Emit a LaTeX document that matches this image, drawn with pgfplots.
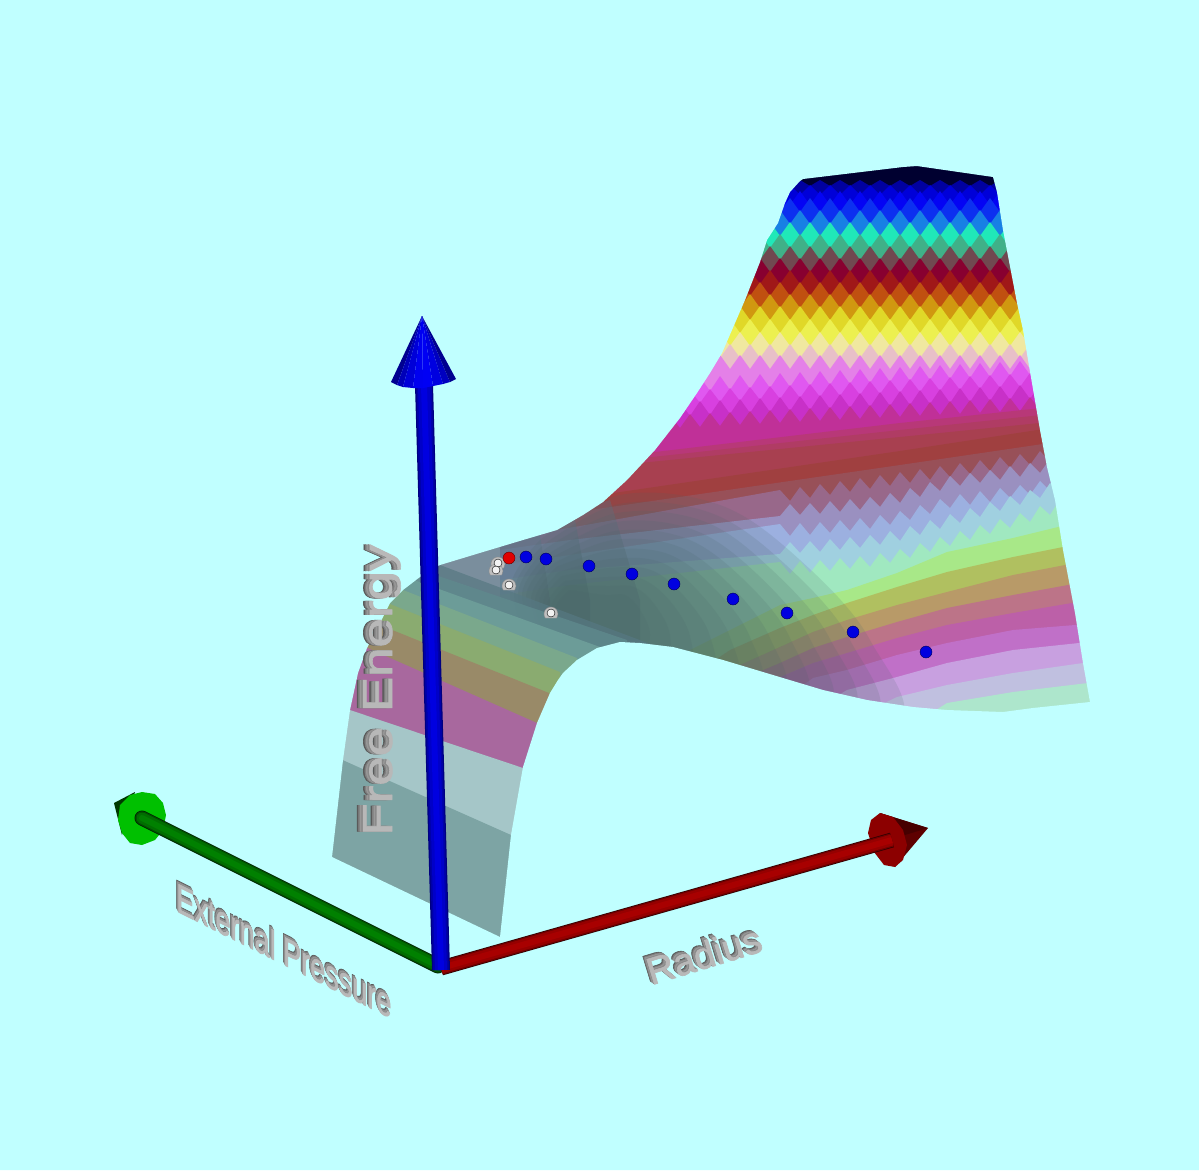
\documentclass[border=0pt]{standalone}
\usepackage{pgfplots}
\pgfplotsset{compat=1.18}
\usepackage{fontspec}
\setmainfont{Liberation Sans}
\newfontfamily\facef{Liberation Sans}[FakeBold=1.5]
\pgfdeclareplotmark{dome}{\pgfpathmoveto{\pgfpointpolar{215}{\pgfplotmarksize}}\pgfpatharc{215}{-35}{\pgfplotmarksize}\pgfpathclose\pgfusepathqfillstroke}
\definecolor{bg}{HTML}{C0FFFF}
\definecolor{ra}{HTML}{000030}\definecolor{rb}{HTML}{0000A0}\definecolor{rc}{HTML}{0000D8}
\definecolor{r1}{HTML}{0404F4}\definecolor{r2}{HTML}{0C30F0}\definecolor{r3}{HTML}{1880E4}
\definecolor{r4}{HTML}{20E8B8}\definecolor{r5}{HTML}{40B088}\definecolor{r6}{HTML}{704850}
\definecolor{r7}{HTML}{880030}\definecolor{r8}{HTML}{A01818}\definecolor{r9}{HTML}{C05010}
\definecolor{r10}{HTML}{D09810}\definecolor{r11}{HTML}{E0D828}\definecolor{r12}{HTML}{ECF050}
\definecolor{r13}{HTML}{F0E8A0}\definecolor{r14}{HTML}{E8C0C8}\definecolor{r15}{HTML}{E480E8}
\definecolor{r16}{HTML}{E058F0}\definecolor{r17}{HTML}{D840E0}\definecolor{r18}{HTML}{C830C8}
\definecolor{r19}{HTML}{C03098}\definecolor{r20}{HTML}{B83878}\definecolor{r20b}{HTML}{B03C64}\definecolor{r21}{HTML}{A84050}
\definecolor{r22}{HTML}{A04040}\definecolor{r23}{HTML}{985058}\definecolor{r24}{HTML}{98688A}
\definecolor{r25}{HTML}{9A90C0}\definecolor{r26}{HTML}{9CB0E0}\definecolor{r27}{HTML}{A0D0E0}
\definecolor{r28}{HTML}{A0E8C0}
\definecolor{cb}{HTML}{A8E888}\definecolor{cc}{HTML}{B0C060}\definecolor{cd}{HTML}{B89A68}
\definecolor{ce}{HTML}{BC7488}\definecolor{cf}{HTML}{BC60A8}\definecolor{cg}{HTML}{C070C8}
\definecolor{ch}{HTML}{C8A0E0}\definecolor{ci}{HTML}{C0C0E0}\definecolor{cj}{HTML}{ADE6CC}
\definecolor{slate}{HTML}{4A6668}\definecolor{tt}{HTML}{5E7688}
\definecolor{b1}{HTML}{567882}\definecolor{b2}{HTML}{5F8A8D}\definecolor{b3}{HTML}{6C9C98}
\definecolor{b4}{HTML}{7AA88C}\definecolor{b5}{HTML}{8AAB70}\definecolor{b6}{HTML}{998A68}
\definecolor{b7}{HTML}{A8689E}\definecolor{b8}{HTML}{A5C6C8}\definecolor{b9}{HTML}{7DA4A4}
\definecolor{gA}{HTML}{5A5A5A}\definecolor{gB}{HTML}{808080}\definecolor{gC}{HTML}{989898}
\definecolor{gD}{HTML}{8A8A8A}\definecolor{gE}{HTML}{B8B8B8}
\newcommand{\solidtext}[7]{%
 \node[text=gA,xshift={#4pt},yshift={#5pt},#3,font=\facef\fontsize{#7}{#7}\selectfont] at (axis cs:#1,#2) {#6};
 \node[text=gB,xshift={0.75*#4pt},yshift={0.75*#5pt},#3,font=\facef\fontsize{#7}{#7}\selectfont] at (axis cs:#1,#2) {#6};
 \node[text=gC,xshift={0.5*#4pt},yshift={0.5*#5pt},#3,font=\facef\fontsize{#7}{#7}\selectfont] at (axis cs:#1,#2) {#6};
 \node[text=gD,xshift={0.25*#4pt},yshift={0.25*#5pt},#3,font=\facef\fontsize{#7}{#7}\selectfont] at (axis cs:#1,#2) {#6};
 \node[text=gE,#3,font=\facef\fontsize{#7}{#7}\selectfont] at (axis cs:#1,#2) {#6};}
\begin{document}
\begin{tikzpicture}
\begin{axis}[scale only axis,width=1199pt,height=1170pt,xmin=0,xmax=1199,ymin=0,ymax=1170,y dir=reverse,axis lines=none,clip=true]
% surface: painted row by row
\addplot[draw=none,fill=ra] coordinates {(780,150)(1010,150)(1110,760)(600,760)};
\addplot[draw=none,fill=rb] coordinates {(790,186)(800,180)(810,186)(820,180)(830,186)(840,180)(850,186)(860,180)(870,186)(880,180)(890,186)(900,180)(910,186)(920,180)(930,186)(940,180)(950,186)(960,180)(970,186)(980,180)(990,186)(1000,180)(1110,760)(600,760)};
\addplot[draw=none,fill=rc] coordinates {(790,185)(800,195)(810,185)(820,195)(830,185)(840,195)(850,185)(860,195)(870,185)(880,195)(890,185)(900,195)(910,185)(920,195)(930,185)(940,195)(950,185)(960,195)(970,185)(980,195)(990,185)(1000,195)(1110,760)(600,760)};
\addplot[draw=none,fill=r1] coordinates {(780,191)(790,205)(800,191)(810,205)(820,191)(830,205)(840,191)(850,205)(860,191)(870,205)(880,191)(890,205)(900,191)(910,205)(920,191)(930,205)(940,191)(950,205)(960,191)(970,205)(980,191)(990,205)(1000,191)(1010,205)(1110,760)(600,760)};
\addplot[draw=none,fill=r2] coordinates {(780,212)(790,198)(800,212)(810,198)(820,212)(830,198)(840,212)(850,198)(860,212)(870,198)(880,212)(890,198)(900,212)(910,198)(920,212)(930,198)(940,212)(950,198)(960,212)(970,198)(980,212)(990,198)(1000,212)(1010,198)(1110,760)(600,760)};
\addplot[draw=none,fill=r3] coordinates {(770,224)(780,210)(790,224)(800,210)(810,224)(820,210)(830,224)(840,210)(850,224)(860,210)(870,224)(880,210)(890,224)(900,210)(910,224)(920,210)(930,224)(940,210)(950,224)(960,210)(970,224)(980,210)(990,224)(1000,210)(1010,224)(1110,760)(600,760)};
\addplot[draw=none,fill=r4] coordinates {(770,222)(780,236)(790,222)(800,236)(810,222)(820,236)(830,222)(840,236)(850,222)(860,236)(870,222)(880,236)(890,222)(900,236)(910,222)(920,236)(930,222)(940,236)(950,222)(960,236)(970,222)(980,236)(990,222)(1000,236)(1010,222)(1110,760)(600,760)};
\addplot[draw=none,fill=r5] coordinates {(760,234)(770,248)(780,234)(790,248)(800,234)(810,248)(820,234)(830,248)(840,234)(850,248)(860,234)(870,248)(880,234)(890,248)(900,234)(910,248)(920,234)(930,248)(940,234)(950,248)(960,234)(970,248)(980,234)(990,248)(1000,234)(1010,248)(1020,234)(1110,760)(600,760)};
\addplot[draw=none,fill=r6] coordinates {(760,260)(770,246)(780,260)(790,246)(800,260)(810,246)(820,260)(830,246)(840,260)(850,246)(860,260)(870,246)(880,260)(890,246)(900,260)(910,246)(920,260)(930,246)(940,260)(950,246)(960,260)(970,246)(980,260)(990,246)(1000,260)(1010,246)(1020,260)(1110,760)(600,760)};
\addplot[draw=none,fill=r7] coordinates {(750,272)(760,258)(770,272)(780,258)(790,272)(800,258)(810,272)(820,258)(830,272)(840,258)(850,272)(860,258)(870,272)(880,258)(890,272)(900,258)(910,272)(920,258)(930,272)(940,258)(950,272)(960,258)(970,272)(980,258)(990,272)(1000,258)(1010,272)(1020,258)(1110,760)(600,760)};
\addplot[draw=none,fill=r8] coordinates {(750,270)(760,284)(770,270)(780,284)(790,270)(800,284)(810,270)(820,284)(830,270)(840,284)(850,270)(860,284)(870,270)(880,284)(890,270)(900,284)(910,270)(920,284)(930,270)(940,284)(950,270)(960,284)(970,270)(980,284)(990,270)(1000,284)(1010,270)(1020,284)(1110,760)(600,760)};
\addplot[draw=none,fill=r9] coordinates {(740,282)(750,296)(760,282)(770,296)(780,282)(790,296)(800,282)(810,296)(820,282)(830,296)(840,282)(850,296)(860,282)(870,296)(880,282)(890,296)(900,282)(910,296)(920,282)(930,296)(940,282)(950,296)(960,282)(970,296)(980,282)(990,296)(1000,282)(1010,296)(1020,282)(1030,296)(1110,760)(600,760)};
\addplot[draw=none,fill=r10] coordinates {(740,308)(750,294)(760,308)(770,294)(780,308)(790,294)(800,308)(810,294)(820,308)(830,294)(840,308)(850,294)(860,308)(870,294)(880,308)(890,294)(900,308)(910,294)(920,308)(930,294)(940,308)(950,294)(960,308)(970,294)(980,308)(990,294)(1000,308)(1010,294)(1020,308)(1030,294)(1110,760)(600,760)};
\addplot[draw=none,fill=r11] coordinates {(730,320)(740,306)(750,320)(760,306)(770,320)(780,306)(790,320)(800,306)(810,320)(820,306)(830,320)(840,306)(850,320)(860,306)(870,320)(880,306)(890,320)(900,306)(910,320)(920,306)(930,320)(940,306)(950,320)(960,306)(970,320)(980,306)(990,320)(1000,306)(1010,320)(1020,306)(1030,320)(1110,760)(600,760)};
\addplot[draw=none,fill=r12] coordinates {(730,319)(740,333)(750,319)(760,333)(770,319)(780,333)(790,319)(800,333)(810,319)(820,333)(830,319)(840,333)(850,319)(860,333)(870,319)(880,333)(890,319)(900,333)(910,319)(920,333)(930,319)(940,333)(950,319)(960,333)(970,319)(980,333)(990,319)(1000,333)(1010,319)(1020,333)(1030,319)(1110,760)(600,760)};
\addplot[draw=none,fill=r13] coordinates {(720,332)(730,346)(740,332)(750,346)(760,332)(770,346)(780,332)(790,346)(800,332)(810,346)(820,332)(830,346)(840,332)(850,346)(860,332)(870,346)(880,332)(890,346)(900,332)(910,346)(920,332)(930,346)(940,332)(950,346)(960,332)(970,346)(980,332)(990,346)(1000,332)(1010,346)(1020,332)(1030,346)(1040,332)(1110,760)(600,760)};
\addplot[draw=none,fill=r14] coordinates {(710,344)(720,358)(730,344)(740,358)(750,344)(760,358)(770,344)(780,358)(790,344)(800,358)(810,344)(820,358)(830,344)(840,358)(850,344)(860,358)(870,344)(880,358)(890,344)(900,358)(910,344)(920,358)(930,344)(940,358)(950,344)(960,358)(970,344)(980,358)(990,344)(1000,358)(1010,344)(1020,358)(1030,344)(1040,358)(1110,760)(600,760)};
\addplot[draw=none,fill=r15] coordinates {(700,355)(710,369)(720,355)(730,369)(740,355)(750,369)(760,355)(770,369)(780,355)(790,369)(800,355)(810,369)(820,355)(830,369)(840,355)(850,369)(860,355)(870,369)(880,355)(890,369)(900,355)(910,369)(920,355)(930,369)(940,355)(950,369)(960,355)(970,369)(980,355)(990,369)(1000,355)(1010,369)(1020,355)(1030,369)(1040,355)(1110,760)(600,760)};
\addplot[draw=none,fill=r16] coordinates {(690,392)(700,377)(710,391)(720,376)(730,390)(740,375)(750,389)(760,374)(770,388)(780,373)(790,387)(800,372)(810,386)(820,371)(830,385)(840,370)(850,384)(860,369)(870,383)(880,368)(890,382)(900,367)(910,381)(920,366)(930,380)(940,365)(950,379)(960,364)(970,378)(980,363)(990,377)(1000,362)(1010,376)(1020,361)(1030,375)(1040,360)(1050,374)(1110,760)(600,760)};
\addplot[draw=none,fill=r17] coordinates {(690,390)(700,403)(710,389)(720,402)(730,388)(740,401)(750,387)(760,400)(770,386)(780,399)(790,385)(800,398)(810,384)(820,397)(830,383)(840,396)(850,382)(860,395)(870,381)(880,394)(890,380)(900,393)(910,379)(920,392)(930,378)(940,391)(950,377)(960,390)(970,376)(980,389)(990,375)(1000,388)(1010,374)(1020,387)(1030,373)(1040,386)(1050,372)(1110,760)(600,760)};
\addplot[draw=none,fill=r18] coordinates {(680,402)(690,416)(700,401)(710,415)(720,400)(730,414)(740,399)(750,413)(760,398)(770,412)(780,397)(790,411)(800,396)(810,410)(820,395)(830,409)(840,394)(850,408)(860,393)(870,407)(880,392)(890,406)(900,391)(910,405)(920,390)(930,404)(940,389)(950,403)(960,388)(970,402)(980,387)(990,401)(1000,386)(1010,400)(1020,385)(1030,399)(1040,384)(1050,398)(1110,760)(600,760)};
\addplot[draw=none,fill=r19] coordinates {(600,445)(670,415)(680,428)(690,414)(700,427)(710,413)(720,426)(730,412)(740,425)(750,411)(760,424)(770,410)(780,423)(790,409)(800,422)(810,408)(820,421)(830,407)(840,420)(850,406)(860,419)(870,405)(880,418)(890,404)(900,417)(910,403)(920,416)(930,402)(940,415)(950,401)(960,414)(970,400)(980,413)(990,399)(1000,412)(1010,398)(1020,411)(1030,397)(1040,410)(1050,396)(1060,409)(1110,760)(500,760)};
\addplot[draw=none,fill=r20] coordinates {(500,470)(630,455)(900,423)(1070,405)(1110,760)(500,760)};
\addplot[draw=none,fill=r20b] coordinates {(500,475)(625,460)(900,430)(1070,412)(1110,760)(500,760)};
\addplot[draw=none,fill=r21] coordinates {(500,480)(620,465)(900,437)(1070,420)(1110,760)(500,760)};
\addplot[draw=none,fill=r22] coordinates {(500,510)(600,495)(900,451)(1070,425)(1110,760)(500,760)};
\addplot[draw=none,fill=r23] coordinates {(500,522)(590,510)(900,465)(1070,440)(1110,760)(500,760)};
\addplot[draw=none,fill=r24] coordinates {(500,540)(580,526)(780,490)(790,501)(800,487)(810,498)(820,484)(830,495)(840,481)(850,492)(860,478)(870,489)(880,475)(890,486)(900,472)(910,483)(920,469)(930,480)(940,466)(950,477)(960,463)(970,474)(980,460)(990,471)(1000,457)(1010,468)(1020,454)(1030,465)(1040,451)(1050,462)(1060,448)(1070,459)(1110,760)(500,760)};
\addplot[draw=none,fill=r25] coordinates {(500,550)(570,540)(780,516)(790,504)(800,515)(810,503)(820,514)(830,501)(840,512)(850,499)(860,510)(870,497)(880,507)(890,493)(900,503)(910,488)(920,497)(930,482)(940,491)(950,476)(960,486)(970,473)(980,483)(990,470)(1000,480)(1010,466)(1020,477)(1030,463)(1040,473)(1050,459)(1060,468)(1070,455)(1110,760)(500,760)};
\addplot[draw=none,fill=r26] coordinates {(500,565)(570,555)(780,524)(790,536)(800,523)(810,535)(820,522)(830,533)(840,520)(850,531)(860,518)(870,529)(880,515)(890,525)(900,511)(910,520)(920,505)(930,514)(940,499)(950,508)(960,494)(970,505)(980,491)(990,502)(1000,488)(1010,498)(1020,485)(1030,495)(1040,481)(1050,491)(1060,476)(1070,487)(1110,760)(500,760)};
\addplot[draw=none,fill=r27] coordinates {(500,580)(570,570)(780,554)(790,542)(800,553)(810,541)(820,552)(830,539)(840,550)(850,537)(860,548)(870,535)(880,545)(890,531)(900,541)(910,526)(920,535)(930,520)(940,529)(950,514)(960,523)(970,508)(980,517)(990,502)(1000,511)(1010,496)(1020,505)(1030,490)(1040,498)(1050,483)(1060,491)(1070,476)(1110,760)(500,760)};
\addplot[draw=none,fill=r28] coordinates {(500,595)(570,585)(780,562)(790,574)(800,561)(810,573)(820,560)(830,571)(840,558)(850,569)(860,556)(870,567)(880,553)(890,563)(900,549)(910,558)(920,543)(930,552)(940,537)(950,546)(960,531)(970,540)(980,525)(990,534)(1000,519)(1010,528)(1020,513)(1030,522)(1040,506)(1050,515)(1060,499)(1070,508)(1110,760)(500,760)};
% lower right arcs
\addplot[draw=none,fill=cb] coordinates {(1100,520)(1058,527)(1013,538)(947,552)(897,573)(847,590)(813,598)(780,605)(730,630)(680,655)(650,670)(650,760)(1100,760)};
\addplot[draw=none,fill=cc] coordinates {(1100,540)(1063,547)(1013,557)(947,572)(897,587)(847,603)(813,615)(780,628)(730,650)(700,670)(680,760)(1100,760)};
\addplot[draw=none,fill=cd] coordinates {(1100,558)(1065,565)(1013,575)(947,592)(897,605)(847,620)(813,632)(780,647)(740,665)(710,680)(700,760)(1100,760)};
\addplot[draw=none,fill=ce] coordinates {(1100,578)(1068,585)(1013,595)(947,608)(897,622)(847,637)(813,648)(780,663)(740,680)(730,760)(1100,760)};
\addplot[draw=none,fill=cf] coordinates {(1100,598)(1072,603)(1013,613)(947,625)(897,638)(847,653)(813,663)(780,677)(760,690)(750,760)(1100,760)};
\addplot[draw=none,fill=cg] coordinates {(1100,620)(1075,625)(1013,630)(947,643)(897,655)(847,670)(813,678)(790,695)(780,760)(1100,760)};
\addplot[draw=none,fill=ch] coordinates {(1100,640)(1079,643)(1013,650)(947,663)(897,677)(847,690)(830,700)(820,760)(1100,760)};
\addplot[draw=none,fill=ci] coordinates {(1100,660)(1083,663)(1013,673)(947,685)(897,697)(870,710)(860,760)(1100,760)};
\addplot[draw=none,fill=cj] coordinates {(1100,680)(1088,683)(1013,692)(947,703)(920,720)(910,760)(1100,760)};
% saddle centre
\addplot[draw=none,fill=tt,fill opacity=.35] coordinates {(420,560)(610,500)(640,600)(640,760)(420,760)};
\addplot[draw=none,fill=tt,fill opacity=.45] coordinates {(420,560)(575,520)(590,600)(590,760)(420,760)};
\addplot[draw=none,fill=tt,fill opacity=.5] coordinates {(420,560)(540,535)(550,600)(550,760)(420,760)};
\pgfplotsset{ov/.style={draw=none,fill=slate,fill opacity=.15,smooth,tension=.6}}
\addplot[ov] coordinates {(540,540)(620,495)(720,505)(800,560)(870,640)(890,730)(650,730)(540,660)(510,590)(540,540)};
\addplot[ov] coordinates {(543,545)(619,504)(711,513)(786,565)(850,640)(867,724)(646,724)(543,658)(514,592)(543,545)};
\addplot[ov] coordinates {(545,549)(617,513)(703,521)(771,569)(830,639)(845,717)(643,717)(545,656)(518,594)(545,549)};
\addplot[ov] coordinates {(548,554)(616,522)(694,530)(757,574)(810,639)(822,711)(639,711)(548,655)(522,595)(548,554)};
\addplot[ov] coordinates {(551,558)(615,531)(685,538)(742,578)(790,638)(799,705)(636,705)(551,653)(526,597)(551,558)};
\addplot[ov] coordinates {(554,563)(613,540)(677,546)(728,583)(770,638)(777,698)(632,698)(554,651)(531,599)(554,563)};
\addplot[ov] coordinates {(556,567)(612,550)(668,554)(713,587)(750,637)(754,692)(628,692)(556,649)(535,601)(556,567)};
\addplot[ov] coordinates {(559,572)(610,559)(660,562)(699,592)(730,637)(731,685)(625,685)(559,647)(539,603)(559,572)};
\addplot[ov] coordinates {(562,576)(609,568)(651,570)(684,596)(710,636)(708,679)(621,679)(562,646)(543,604)(562,576)};
\addplot[ov] coordinates {(565,581)(608,577)(642,579)(670,601)(690,636)(686,673)(618,673)(565,644)(547,606)(565,581)};
\addplot[ov] coordinates {(567,585)(606,586)(634,587)(655,605)(670,635)(663,666)(614,666)(567,642)(551,608)(567,585)};
\addplot[ov] coordinates {(570,590)(605,595)(625,595)(640,610)(650,635)(640,660)(610,660)(570,640)(555,610)(570,590)};
% left bands
\addplot[draw=none,fill=b1,fill opacity=.7] coordinates {(400,550)(653,645)(653,960)(300,960)};
\addplot[draw=none,fill=b2,fill opacity=.8] coordinates {(400,563)(627,640)(627,960)(300,960)};
\addplot[draw=none,fill=b3] coordinates {(400,575)(600,647)(600,960)(300,960)};
\addplot[draw=none,fill=b4] coordinates {(380,581)(577,658)(577,960)(300,960)};
\addplot[draw=none,fill=b5] coordinates {(350,588)(560,672)(560,960)(300,960)};
\addplot[draw=none,fill=b6] coordinates {(330,605)(549,693)(549,960)(300,960)};
\addplot[draw=none,fill=b7] coordinates {(320,627)(537,723)(537,960)(300,960)};
\addplot[draw=none,fill=b8] coordinates {(320,700)(523,768)(523,960)(300,960)};
\addplot[draw=none,fill=b9] coordinates {(320,750)(511,835)(511,960)(300,960)};
% everything outside the surface
\addplot[draw=none,fill=bg,even odd rule] coordinates {(0,0)(1199,0)(1199,1170)(0,1170)(0,0)(332,857)(343,760)(350,710)(358,673)(367,648)(380,623)(390,603)(403,590)(420,577)(440,565)(483,552)(523,540)(557,530)(583,515)(603,502)(627,480)(655,450)(680,418)(697,393)(710,373)(722,353)(732,330)(745,300)(760,262)(767,240)(778,223)(785,203)(790,192)(800,181)(803,179)(903,167)(917,166)(993,177)(997,192)(1003,230)(1017,303)(1023,330)(1028,360)(1040,430)(1047,467)(1055,500)(1063,550)(1075,613)(1083,663)(1090,702)(1033,708)(1003,712)(947,710)(913,707)(867,700)(823,690)(783,678)(723,660)(673,647)(640,643)(620,642)(597,648)(577,660)(563,673)(558,680)(550,693)(537,723)(523,767)(511,835)(500,937)(332,857)(0,0)};
% labels
\solidtext{392}{690}{anchor=base,rotate=90,xscale=1.26}{-6}{0}{Free Energy}{42}
\solidtext{284}{965}{anchor=base,yslant=-0.5,xscale=0.66}{-2}{4}{External Pressure}{41}
\solidtext{708}{968}{anchor=base,rotate=17}{-4}{3}{Radius}{38}
% green axis
\addplot[draw=none,fill={rgb,255:red,0;green,56;blue,0}] coordinates {(114,803)(135,792)(122,835)};
\addplot[draw=none,fill={rgb,255:red,0;green,192;blue,0}] coordinates {(142,792)(155,794)(163,803)(166,815)(163,830)(155,840)(142,845)(130,843)(122,833)(118,820)(120,805)(130,795)};
\addplot[line cap=round,line width=15pt,color={rgb,255:red,0;green,32;blue,0}] coordinates {(438,966)(142,818)};
\addplot[line cap=round,line width=13.5pt,color={rgb,255:red,0;green,80;blue,0}] coordinates {(438,966)(142,818)};
\addplot[line cap=round,line width=11pt,color={rgb,255:red,0;green,110;blue,0}] coordinates {(438,966)(142,818)};
\addplot[line cap=round,line width=6pt,color={rgb,255:red,0;green,128;blue,0}] coordinates {(438,966)(142,818)};
% red axis
\addplot[draw=none,fill={rgb,255:red,94;green,0;blue,0}] coordinates {(880,813)(928,828)(895,867)};
\addplot[draw=none,fill={rgb,255:red,70;green,0;blue,0}] coordinates {(880,813)(928,828)(905,835)};
\addplot[draw=none,fill={rgb,255:red,140;green,0;blue,0}] coordinates {(880,813)(893,817)(903,830)(907,845)(903,860)(895,867)(884,865)(874,852)(868,833)(871,820)};
\addplot[line width=15pt,color={rgb,255:red,48;green,0;blue,0}] coordinates {(441,968)(892,840)};
\addplot[line width=13.5pt,color={rgb,255:red,112;green,0;blue,0}] coordinates {(441,968)(892,840)};
\addplot[line width=11pt,color={rgb,255:red,150;green,0;blue,0}] coordinates {(441,968)(892,840)};
\addplot[line width=6pt,color={rgb,255:red,168;green,0;blue,0}] coordinates {(441,968)(892,840)};
% blue axis
\addplot[line width=18pt,color={rgb,255:red,0;green,0;blue,128}] coordinates {(441,970)(424,385)};
\addplot[line width=15.5pt,color={rgb,255:red,0;green,0;blue,168}] coordinates {(441,970)(424,385)};
\addplot[line width=12pt,color={rgb,255:red,0;green,0;blue,200}] coordinates {(441,970)(424,385)};
\addplot[line width=6pt,color={rgb,255:red,0;green,0;blue,224}] coordinates {(441,970)(424,385)};
\addplot[draw=none,fill={rgb,255:red,0;green,0;blue,144}] coordinates {(422,316)(391,382)(397,385)};
\addplot[draw=none,fill={rgb,255:red,0;green,0;blue,184}] coordinates {(422,316)(397,385)(403,387)};
\addplot[draw=none,fill={rgb,255:red,0;green,0;blue,216}] coordinates {(422,316)(403,387)(413,388)};
\addplot[draw=none,fill={rgb,255:red,0;green,0;blue,240}] coordinates {(422,316)(413,388)(423,388)};
\addplot[draw=none,fill={rgb,255:red,0;green,0;blue,244}] coordinates {(422,316)(423,388)(433,386)};
\addplot[draw=none,fill={rgb,255:red,0;green,0;blue,224}] coordinates {(422,316)(433,386)(443,384)};
\addplot[draw=none,fill={rgb,255:red,0;green,0;blue,192}] coordinates {(422,316)(443,384)(450,382)};
\addplot[draw=none,fill={rgb,255:red,0;green,0;blue,144}] coordinates {(422,316)(450,382)(456,379)};
% spheres
\addplot[only marks,mark=dome,mark size=7pt,mark options={fill=black!25,draw=black!45}] coordinates {(498,564)(496,571)(509,586)(551,614)};
\addplot[only marks,mark=*,mark size=4pt,mark options={fill=black!5,draw=none}] coordinates {(498,563)(496,570)(509,585)(551,613)};
\addplot[only marks,mark=*,mark size=6pt,mark options={fill={rgb,255:red,224;green,0;blue,0},draw={rgb,255:red,90;green,0;blue,0}}] coordinates {(509,558)};
\addplot[only marks,mark=*,mark size=6pt,mark options={fill={rgb,255:red,0;green,0;blue,224},draw={rgb,255:red,0;green,0;blue,80}}] coordinates {(526,557)(546,559)(589,566)(632,574)(674,584)(733,599)(787,613)(853,632)(926,652)};
\end{axis}
\end{tikzpicture}
\end{document}
